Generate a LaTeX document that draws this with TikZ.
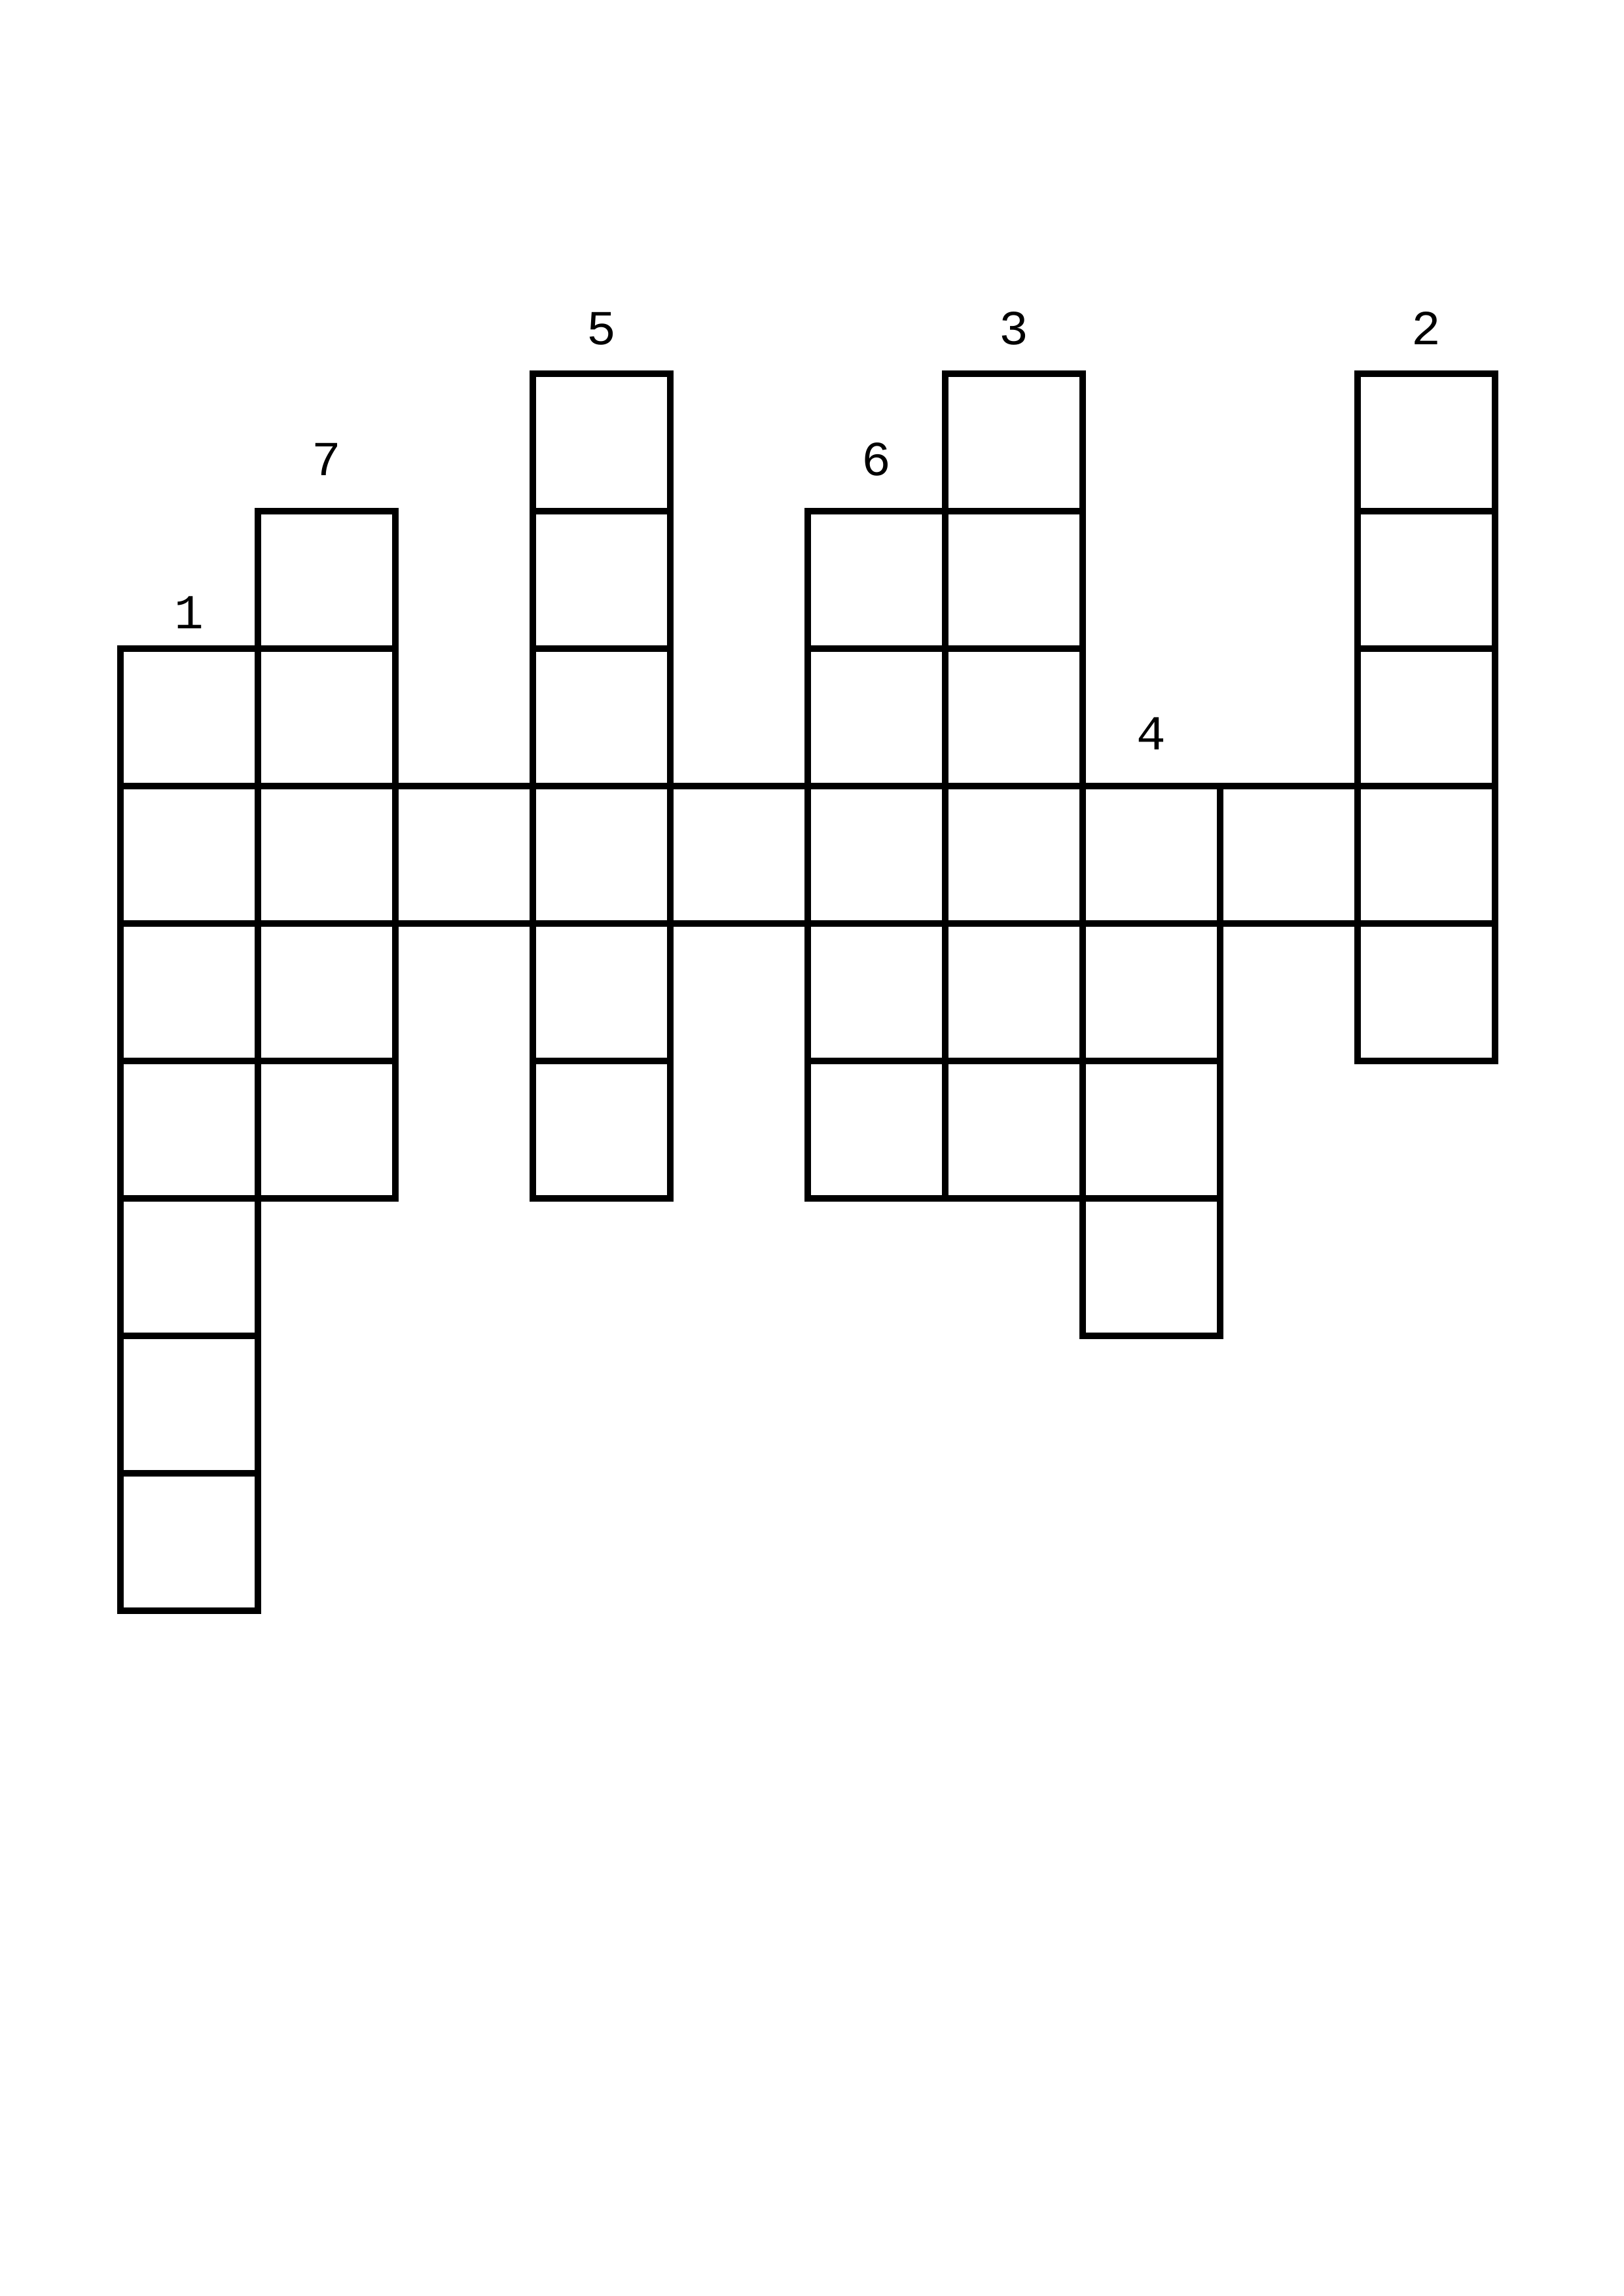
\documentclass[tikz,border=0pt]{standalone}
\usepackage{fontspec}
\setmonofont{Liberation Mono}

\begin{document}
\begin{tikzpicture}[x=1.778cm,y=-1.778cm]

 \tikzset{
    cell/.style={draw, line width=2.25pt, minimum size=1.778cm, inner sep=0pt, outer sep=0pt},
    clue/.style={font=\ttfamily\fontsize{18}{18}\selectfont, inner sep=0pt, anchor=base},
  }

  \useasboundingbox (-1.558cm,4.834cm) rectangle (19.442cm,-24.866cm);

  % squares, column by column
  \foreach \c/\first/\last in {0/2/8, 1/1/5, 2/3/3, 3/0/5, 4/3/3, 5/1/5, 6/0/5, 7/3/6, 8/3/3, 9/0/4}
    \foreach \r in {\first,...,\last}
      \node[cell] (c\c-\r) at (\c+0.5,\r+0.5) {};

  % clue numbers
  \node[clue] (n1) at ([yshift=0.262cm]c0-2.north) {1};
  \node[clue] (n7) at ([yshift=0.457cm]c1-1.north) {7};
  \node[clue] (n5) at ([yshift=0.3725cm]c3-0.north) {5};
  \node[clue] (n6) at ([yshift=0.457cm]c5-1.north) {6};
  \node[clue] (n3) at ([yshift=0.3725cm]c6-0.north) {3};
  \node[clue] (n4) at ([yshift=0.466cm]c7-3.north) {4};
  \node[clue] (n2) at ([yshift=0.3725cm]c9-0.north) {2};
\end{tikzpicture}
\end{document}
